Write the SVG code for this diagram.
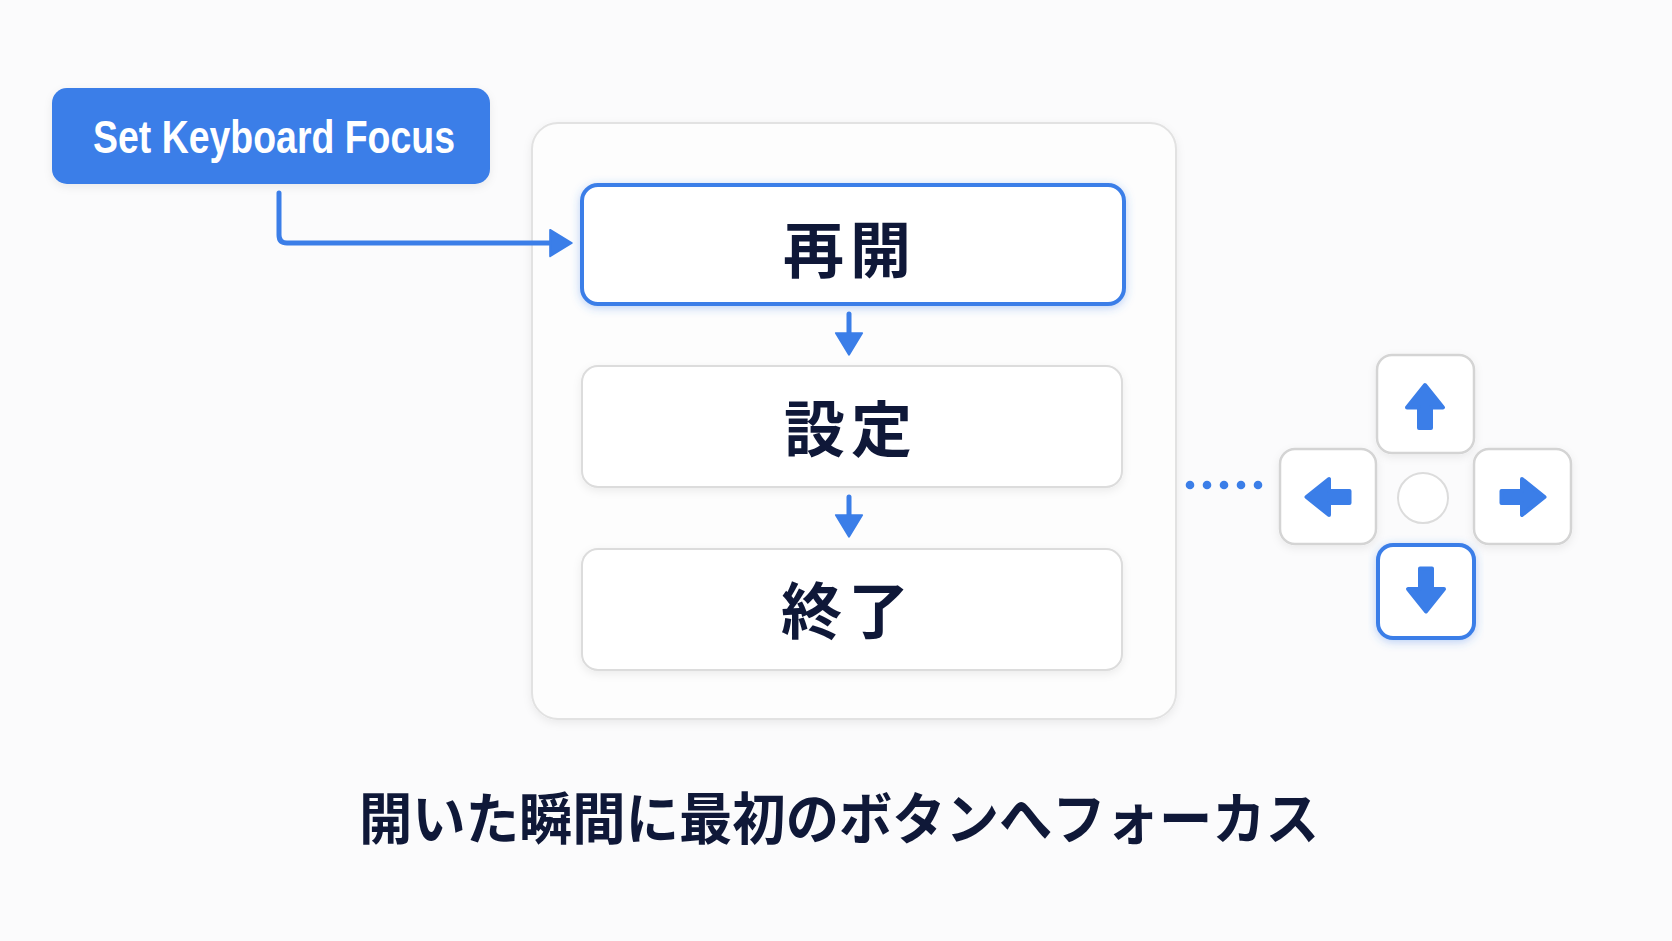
<svg xmlns="http://www.w3.org/2000/svg" width="1672" height="941" viewBox="0 0 1672 941">
  <defs>
    <style>
      .jp { font-family: "Noto Sans CJK JP", "Noto Sans CJK SC", sans-serif; font-weight: 700; fill: #0f1838; }
      .item { fill: #ffffff; stroke: #dcdcdc; stroke-width: 2; }
      .key { fill: #ffffff; stroke: #d4d4d4; stroke-width: 2.5; }
      .focus { fill: #ffffff; stroke: #3b7ee8; stroke-width: 4; }
      .conn { fill: none; stroke: #3b7ee8; stroke-width: 5; stroke-linecap: round; stroke-linejoin: round; }
      .glyph { fill: #3b7ee8; stroke: #3b7ee8; stroke-width: 4; stroke-linejoin: round; }
      .dot { fill: #3b7ee8; }
    </style>
    <marker id="ah" markerUnits="userSpaceOnUse" markerWidth="30" markerHeight="32" refX="2" refY="14" orient="auto" viewBox="-3 -3 30 34">
      <path d="M0,0 L23,14 L0,28 Z" fill="#3b7ee8" stroke="#3b7ee8" stroke-width="2" stroke-linejoin="round"/>
    </marker>
    <path id="arrowUp" d="M0,-21.5 L18,1 L6,1 L6,21.5 L-6,21.5 L-6,1 L-18,1 Z"/>
    <filter id="shadow" x="-10%" y="-10%" width="120%" height="130%">
      <feDropShadow dx="0" dy="3" stdDeviation="4" flood-color="#000000" flood-opacity="0.07"/>
    </filter>
    <filter id="glow" x="-10%" y="-20%" width="120%" height="140%">
      <feDropShadow dx="0" dy="2" stdDeviation="5" flood-color="#3b7ee8" flood-opacity="0.35"/>
    </filter>
  </defs>

  <rect x="0" y="0" width="1672" height="941" fill="#fbfbfc"/>

  <g id="panel">
    <rect x="532" y="123" width="644" height="596" rx="26" fill="#fdfdfd" stroke="#e2e2e2" stroke-width="2" filter="url(#shadow)"/>
  </g>

  <g id="set-keyboard-focus">
    <rect x="52" y="88" width="438" height="96" rx="15" fill="#3b7ee8" filter="url(#shadow)"/>
    <text x="274" y="153" text-anchor="middle" font-family="Liberation Sans, Arial, sans-serif" font-weight="700" font-size="46" fill="#ffffff" textLength="362" lengthAdjust="spacingAndGlyphs">Set Keyboard Focus</text>
  </g>

  <g id="item-resume">
    <rect class="focus" x="582" y="185" width="542" height="119" rx="16" filter="url(#glow)"/>
    <text class="jp" x="850" y="273" text-anchor="middle" font-size="61" letter-spacing="6">再開</text>
  </g>

  <g id="item-settings">
    <rect class="item" x="582" y="366" width="540" height="121" rx="16" filter="url(#shadow)"/>
    <text class="jp" x="851" y="452" text-anchor="middle" font-size="61" letter-spacing="6">設定</text>
  </g>

  <g id="item-quit">
    <rect class="item" x="582" y="549" width="540" height="121" rx="16" filter="url(#shadow)"/>
    <text class="jp" x="848" y="634" text-anchor="middle" font-size="61" letter-spacing="6">終了</text>
  </g>

  <g id="connectors">
    <path class="conn" d="M279,193 V235 Q279,243 287,243 H552" marker-end="url(#ah)"/>
    <path class="conn" d="M849,314 V335" marker-end="url(#ah)"/>
    <path class="conn" d="M849,497 V517" marker-end="url(#ah)"/>
    <g id="dotted-link">
      <circle class="dot" cx="1190" cy="485" r="4.3"/>
      <circle class="dot" cx="1207" cy="485" r="4.3"/>
      <circle class="dot" cx="1224" cy="485" r="4.3"/>
      <circle class="dot" cx="1241" cy="485" r="4.3"/>
      <circle class="dot" cx="1258" cy="485" r="4.3"/>
    </g>
  </g>

  <g id="key-up">
    <rect class="key" x="1377" y="355" width="97" height="98" rx="15" filter="url(#shadow)"/>
    <use href="#arrowUp" class="glyph" transform="translate(1425,406.5)"/>
  </g>
  <g id="key-left">
    <rect class="key" x="1280" y="449" width="96" height="95" rx="15" filter="url(#shadow)"/>
    <use href="#arrowUp" class="glyph" transform="translate(1328,497) rotate(-90)"/>
  </g>
  <g id="key-right">
    <rect class="key" x="1474" y="449" width="97" height="95" rx="15" filter="url(#shadow)"/>
    <use href="#arrowUp" class="glyph" transform="translate(1523,497) rotate(90)"/>
  </g>
  <g id="key-center">
    <circle cx="1423" cy="498" r="25" fill="#ffffff" stroke="#dcdcdc" stroke-width="2"/>
  </g>
  <g id="key-down">
    <rect class="focus" x="1378" y="545" width="96" height="93" rx="15" filter="url(#glow)"/>
    <use href="#arrowUp" class="glyph" transform="translate(1426,590) rotate(180)"/>
  </g>

  <g id="caption">
    <text class="jp" x="839" y="839" text-anchor="middle" font-size="56" textLength="960" lengthAdjust="spacingAndGlyphs">開いた瞬間に最初のボタンへフォーカス</text>
  </g>
</svg>
